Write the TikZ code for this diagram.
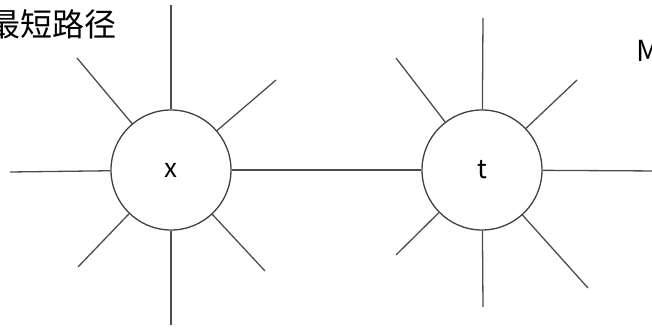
\documentclass[tikz,border=0pt]{standalone}
\usepackage{fontspec}
\setmainfont{Noto Sans CJK SC}
\begin{document}
\begin{tikzpicture}[x=1pt,y=1pt,
  vertex/.style={draw=black!75, line width=1.3pt, circle, minimum size=120pt, inner sep=0pt, font=\fontsize{26}{28}\selectfont},
  ray/.style={draw=black!70, line width=1.3pt}]
\useasboundingbox (0,0) rectangle (652,329);
\clip (0,0) rectangle (652,329);
\node[inner sep=0pt, anchor=east, font=\fontsize{32}{34}\selectfont] (title) at (117,305) {最短路径};
\node[inner sep=0pt, anchor=west, font=\fontsize{29}{31}\selectfont] (m) at (636,278) {M};
\node[vertex] (x) at (171,159) {x};
\node[vertex] (t) at (482,159) {t};
\coordinate (x1) at (171,324);
\coordinate (x2) at (77,271);
\coordinate (x3) at (276,249);
\coordinate (x4) at (10,157);
\coordinate (x5) at (78,62);
\coordinate (x6) at (265,58);
\coordinate (x7) at (171,4);
\coordinate (t1) at (483,311);
\coordinate (t2) at (396,271);
\coordinate (t3) at (577,249);
\coordinate (t4) at (660,158);
\coordinate (t5) at (396,74);
\coordinate (t6) at (588,41);
\coordinate (t7) at (483,22);
\draw[ray] (x) -- (t);
\foreach \i in {1,...,7} {
  \draw[ray] (x) -- (x\i);
  \draw[ray] (t) -- (t\i);
}
\end{tikzpicture}
\end{document}
